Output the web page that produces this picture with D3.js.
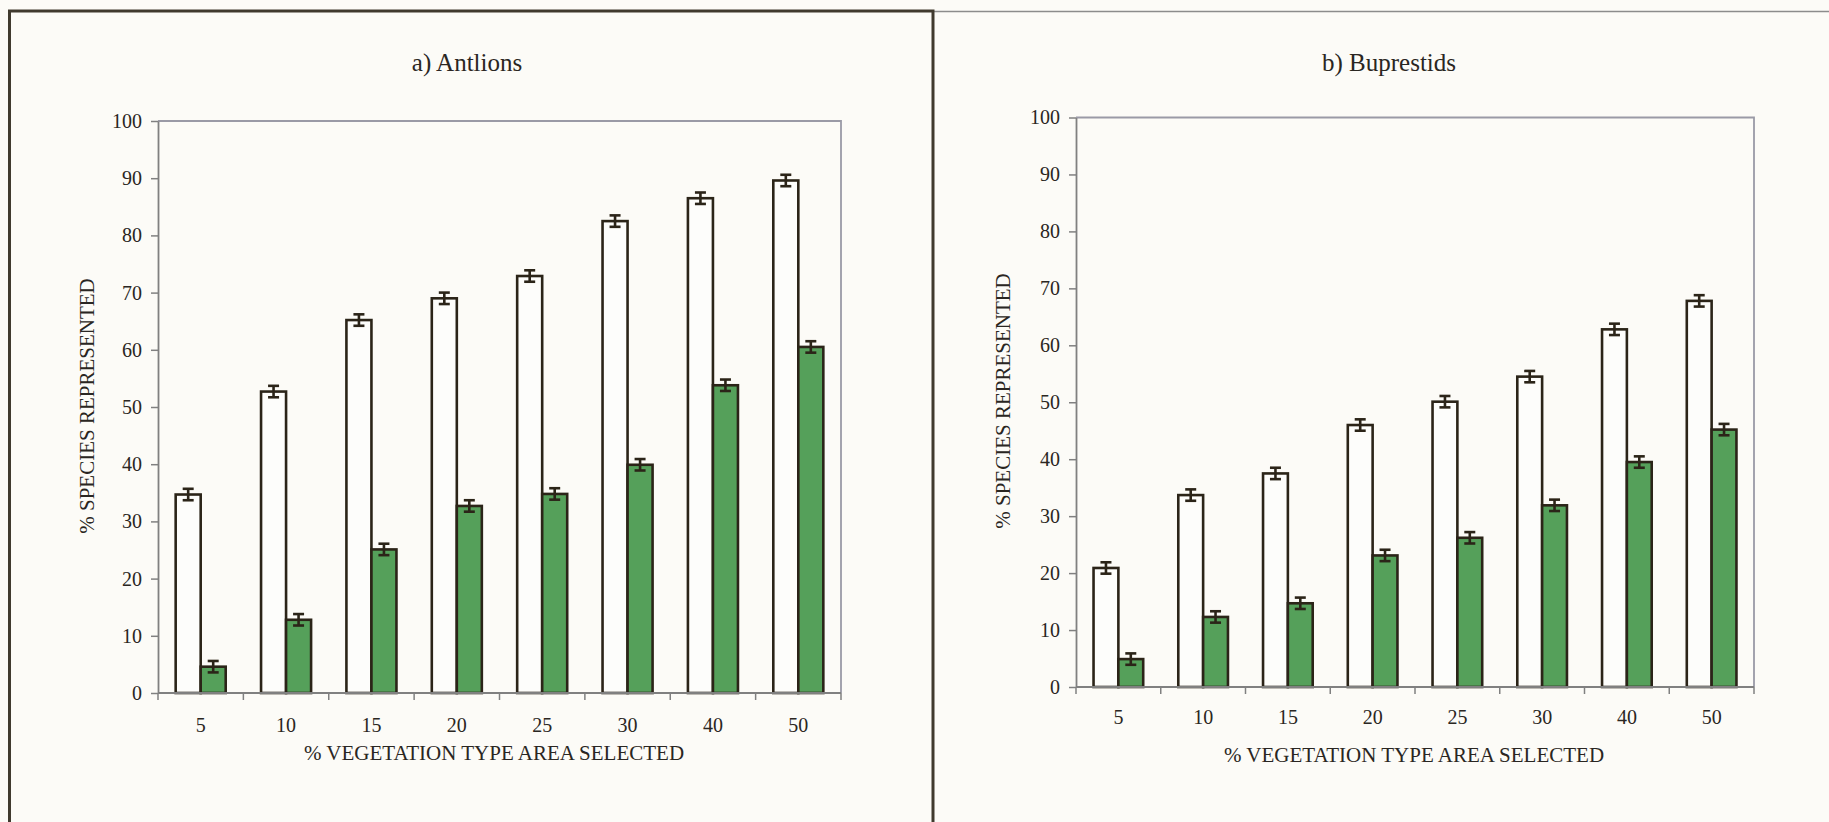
<!DOCTYPE html>
<html>
<head>
<meta charset="utf-8">
<script src="https://cdn.jsdelivr.net/npm/d3@7"></script>
<style>
  html, body { margin: 0; padding: 0; background: #fcfbf7; }
  svg { display: block; }
  text { font-family: "Liberation Serif", "Times New Roman", serif; fill: #2a2622; }
</style>
</head>
<body>
<div id="chart"></div>
<script>
// categories on the x axis (% vegetation type area selected)
const categories = ['5', '10', '15', '20', '25', '30', '40', '50'];
const yTicks = [0, 10, 20, 30, 40, 50, 60, 70, 80, 90, 100];

// a) Antlions
const antlionsAll = [34.7, 52.7, 65.2, 69.0, 72.9, 82.5, 86.5, 89.6];
const antlionsSel = [4.6, 12.8, 25.1, 32.7, 34.8, 39.9, 53.8, 60.5];
const antlionsAllErr = [1.0, 1.0, 1.0, 1.0, 1.0, 1.0, 1.0, 1.0];
const antlionsSelErr = [1.0, 1.0, 1.0, 1.0, 1.0, 1.0, 1.0, 1.0];

// b) Buprestids
const buprestidsAll = [20.9, 33.7, 37.5, 46.0, 50.1, 54.5, 62.8, 67.8];
const buprestidsSel = [4.9, 12.3, 14.7, 23.1, 26.2, 31.9, 39.5, 45.2];
const buprestidsAllErr = [1.0, 1.0, 1.0, 1.0, 1.0, 1.0, 1.0, 1.0];
const buprestidsSelErr = [1.0, 1.0, 1.0, 1.0, 1.0, 1.0, 1.0, 1.0];

const W = 1829, H = 822;
const svg = d3.select('#chart').append('svg').attr('width', W).attr('height', H);

svg.append('rect').attr('width', W).attr('height', H).attr('fill', '#fcfbf7');

// frame around the left figure and the line across the top
svg.append('line').attr('x1', 933).attr('x2', W).attr('y1', 11.5).attr('y2', 11.5)
  .attr('stroke', '#8c8c8c').attr('stroke-width', 1.5);
svg.append('path').attr('d', 'M9.5,830 V11 H933 V830')
  .attr('fill', 'none').attr('stroke', '#403a2e').attr('stroke-width', 3);

const panels = [
  {
    title: 'a) Antlions', all: antlionsAll, sel: antlionsSel,
    allErr: antlionsAllErr, selErr: antlionsSelErr,
    x0: 158, x1: 841, y0: 693, y1: 121,
    titleX: 467, titleY: 62, xlabX: 494, xlabY: 753, ylabX: 87, ylabY: 406, tickPad: 25
  },
  {
    title: 'b) Buprestids', all: buprestidsAll, sel: buprestidsSel,
    allErr: buprestidsAllErr, selErr: buprestidsSelErr,
    x0: 1076, x1: 1754, y0: 687, y1: 117.5,
    titleX: 1389, titleY: 62, xlabX: 1414, xlabY: 755, ylabX: 1003, ylabY: 401, tickPad: 23
  }
];

panels.forEach(p => drawPanel(p));

function drawPanel(p) {
  const g = svg.append('g');
  const x = d3.scaleBand().domain(categories).range([p.x0, p.x1]);
  const y = d3.scaleLinear().domain([0, 100]).range([p.y0, p.y1]);
  const bw = x.bandwidth() * 0.293;

  // frame (top and right)
  g.append('path')
    .attr('d', `M${p.x0},${y(100)} H${p.x1} V${p.y0}`)
    .attr('fill', 'none').attr('stroke', '#9a9aa6').attr('stroke-width', 1.8);

  // y axis
  const yAxis = g.append('g')
    .attr('transform', `translate(${p.x0},0)`)
    .call(d3.axisLeft(y).tickValues(yTicks).tickSize(7).tickPadding(9).tickSizeOuter(0));
  yAxis.selectAll('text').style('font-size', '20px').attr('fill', '#2a2622');

  // x axis labels (centred on categories)
  const xAxis = g.append('g')
    .attr('transform', `translate(0,${p.y0})`)
    .call(d3.axisBottom(x).tickSize(0).tickPadding(p.tickPad).tickSizeOuter(0));
  xAxis.selectAll('text').style('font-size', '20px').attr('fill', '#2a2622');
  xAxis.select('.domain').remove();

  // x tick marks at category boundaries
  const bounds = categories.map(c => x(c)).concat([p.x1]);
  g.selectAll('.xtick').data(bounds).enter().append('line')
    .attr('x1', d => d).attr('x2', d => d)
    .attr('y1', p.y0).attr('y2', p.y0 + 7)
    .attr('stroke', '#808080').attr('stroke-width', 1.5);

  [yAxis].forEach(a => {
    a.select('.domain').attr('stroke', '#808080').attr('stroke-width', 1.8);
    a.selectAll('line').attr('stroke', '#808080').attr('stroke-width', 1.5);
  });

  // bars
  const series = [
    { vals: p.all, errs: p.allErr, fill: '#fdfdfb', off: -bw },
    { vals: p.sel, errs: p.selErr, fill: '#55a05a', off: 0 }
  ];
  series.forEach(s => {
    g.selectAll(null).data(categories).enter().append('rect')
      .attr('x', (c) => x(c) + x.bandwidth() / 2 + s.off)
      .attr('y', (c, i) => y(s.vals[i]))
      .attr('width', bw)
      .attr('height', (c, i) => p.y0 - y(s.vals[i]))
      .attr('fill', s.fill)
      .attr('stroke', '#2b2418').attr('stroke-width', 2.6);
  });

  // x axis line drawn over bar bottoms
  g.append('line').attr('x1', p.x0).attr('x2', p.x1).attr('y1', p.y0).attr('y2', p.y0)
    .attr('stroke', '#808080').attr('stroke-width', 1.8);

  // error bars
  series.forEach(s => {
    const eb = g.selectAll(null).data(categories).enter().append('g')
      .attr('stroke', '#2b2418').attr('stroke-width', 2.6);
    const cx = c => x(c) + x.bandwidth() / 2 + s.off + bw / 2;
    eb.append('line')
      .attr('x1', cx).attr('x2', cx)
      .attr('y1', (c, i) => y(s.vals[i] + s.errs[i]))
      .attr('y2', (c, i) => y(s.vals[i] - s.errs[i]));
    eb.append('line')
      .attr('x1', c => cx(c) - 5.5).attr('x2', c => cx(c) + 5.5)
      .attr('y1', (c, i) => y(s.vals[i] + s.errs[i]))
      .attr('y2', (c, i) => y(s.vals[i] + s.errs[i]));
    eb.append('line')
      .attr('x1', c => cx(c) - 5.5).attr('x2', c => cx(c) + 5.5)
      .attr('y1', (c, i) => y(s.vals[i] - s.errs[i]))
      .attr('y2', (c, i) => y(s.vals[i] - s.errs[i]));
  });

  // titles and axis labels
  g.append('text').attr('x', p.titleX).attr('y', p.titleY).attr('dy', '0.35em')
    .attr('text-anchor', 'middle').style('font-size', '25px').text(p.title);
  g.append('text').attr('x', p.xlabX).attr('y', p.xlabY).attr('dy', '0.35em')
    .attr('text-anchor', 'middle').style('font-size', '21px')
    .text('% VEGETATION TYPE AREA SELECTED');
  g.append('text')
    .attr('transform', `translate(${p.ylabX},${p.ylabY}) rotate(-90)`)
    .attr('dy', '0.35em').attr('text-anchor', 'middle').style('font-size', '21px')
    .text('% SPECIES REPRESENTED');
}
</script>
</body>
</html>
